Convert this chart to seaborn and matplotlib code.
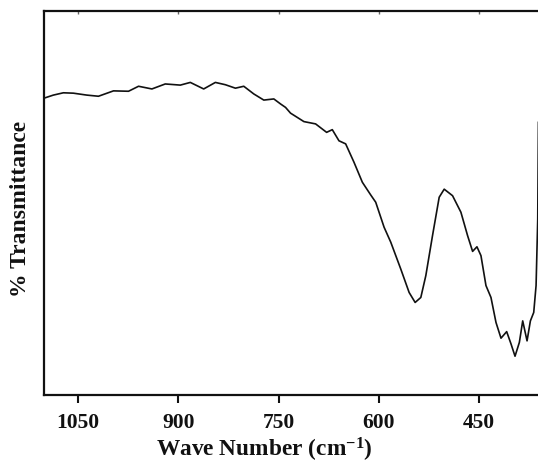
import matplotlib
matplotlib.use("Agg")
import matplotlib.pyplot as plt
import seaborn as sns
import pandas as pd

wavenumber = [1101, 1087, 1072, 1057, 1037, 1019.5, 997, 974.5, 959.5, 939.5,
              919.5, 897, 882, 862, 844.5, 829.5, 814.5, 802, 787, 772,
              757, 747, 739.5, 732, 712, 694.5, 678, 669.5, 659.5, 649.5,
              637, 624.5, 612, 604.5, 592, 582, 567, 554.5, 545.5, 537,
              529.5, 519.5, 509.5, 502, 489.5, 477, 467, 459.5, 453, 447,
              439.5, 432, 424.5, 417, 408.5, 402, 396, 389.5, 384.5, 378,
              373, 368, 364.5, 362, 361]
transmittance = [77.3, 78.1, 78.7, 78.6, 78.1, 77.8, 79.2, 79.1, 80.4, 79.7,
                 81.0, 80.7, 81.4, 79.7, 81.4, 80.8, 79.9, 80.4, 78.4, 76.8,
                 77.1, 75.8, 74.9, 73.4, 71.2, 70.6, 68.4, 69.1, 66.2, 65.4,
                 60.6, 55.4, 52.1, 50.2, 43.7, 39.8, 32.8, 26.7, 24.1, 25.4,
                 31.1, 41.5, 51.5, 53.6, 51.9, 47.6, 41.5, 37.4, 38.6, 36.3,
                 28.5, 25.4, 18.9, 14.8, 16.5, 13.3, 10.1, 13.7, 19.3, 14.1,
                 19.3, 21.5, 28.5, 45.8, 71.1]
xticks = [1050, 900, 750, 600, 450]

df = pd.DataFrame({"wn": wavenumber, "T": transmittance})

sns.set_style("ticks")
plt.rcParams['font.family'] = ['Liberation Serif', 'DejaVu Serif']
plt.rcParams['font.weight'] = 'bold'
plt.rcParams['mathtext.fontset'] = 'custom'
plt.rcParams['mathtext.rm'] = 'Liberation Serif:bold'
plt.rcParams['mathtext.bf'] = 'Liberation Serif:bold'
plt.rcParams['mathtext.it'] = 'Liberation Serif:bold'

ink = '#111111'
fig = plt.figure(figsize=(5.38, 4.64), dpi=100)
ax = fig.add_axes([44/538, 68/464, 1 - 44/538 + 0.002, 384/464])

sns.lineplot(data=df, x="wn", y="T", ax=ax, color=ink, linewidth=1.2,
             sort=False, estimator=None)

ax.set_xlim(1101, 360)
ax.set_ylim(0, 100)
ax.set_xticks(xticks)
ax.set_xticklabels([str(t) for t in xticks], fontsize=15.5, fontweight='bold', color=ink)
ax.set_yticks([])
ax.tick_params(axis='x', which='major', direction='out', length=6, width=1.5,
               pad=6, color=ink, top=False)
ax.set_xlabel("")
ax.set_ylabel("% Transmittance", fontsize=17, fontweight='bold', color=ink)
ax.yaxis.set_label_coords(-0.026, 0.487)

secax = ax.secondary_xaxis('top')
secax.set_xticks(xticks)
secax.tick_params(axis='x', direction='in', length=2.5, width=1.0, color='#666666',
                  labeltop=False)
secax.spines['top'].set_visible(False)

for side in ['left', 'bottom', 'top']:
    ax.spines[side].set_linewidth(1.6)
    ax.spines[side].set_color(ink)
ax.spines['right'].set_visible(False)

fig.text(264/538, 7/464, "Wave Number (cm$^{-1}$)", fontsize=16.8, fontweight='bold',
         color=ink, ha='center', va='baseline')

fig.savefig("out.png", dpi=100)
